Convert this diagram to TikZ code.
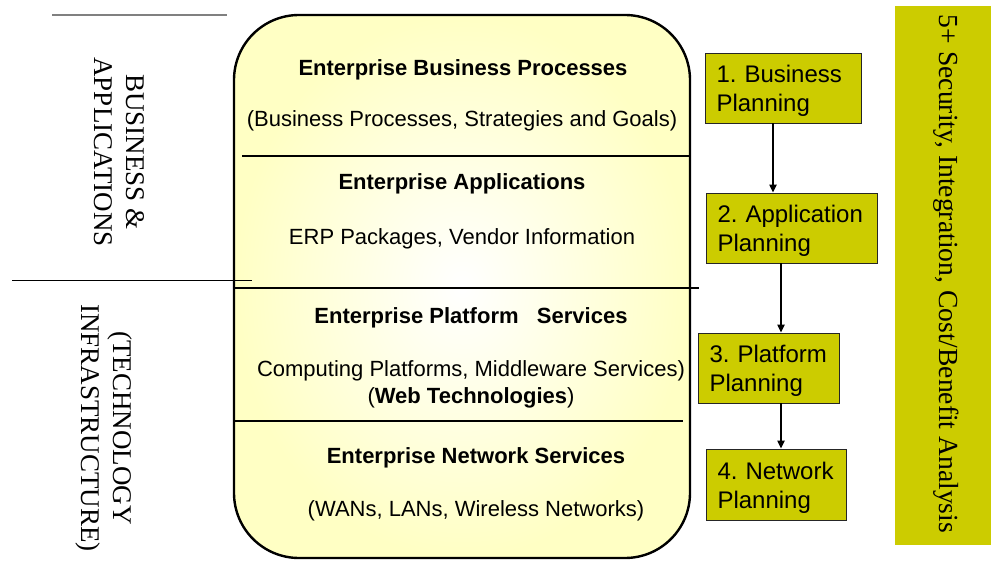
\documentclass[tikz,border=0pt]{standalone}
\usepackage{fontspec}
\setmainfont{Liberation Serif}
\setsansfont{Liberation Sans}
\usetikzlibrary{arrows.meta}
\definecolor{planyellow}{RGB}{204,204,0}
\definecolor{paleyellow}{RGB}{255,255,196}
\frenchspacing
\hyphenpenalty=10000
\exhyphenpenalty=10000
\begin{document}
\begin{tikzpicture}[x=1pt,y=-1pt,
  layertitle/.style={font=\sffamily\bfseries\fontsize{22}{26}\selectfont, inner sep=0pt},
  layertext/.style={font=\sffamily\fontsize{22}{27}\selectfont, align=center, inner sep=0pt},
  planbox/.style={draw=black!85, line width=0.8pt, fill=planyellow,
    font=\sffamily\fontsize{24}{29}\selectfont,
    align=left, inner xsep=11.5pt, inner ysep=0pt,
    execute at begin node={\rule{0pt}{23.5pt}}},
  sidelabel/.style={rotate=-90, align=center, font=\fontsize{27}{32}\selectfont, inner sep=0pt},
  flow/.style={-{Triangle[length=8pt,width=7pt]}, line width=2pt},
  divider/.style={line width=2pt},
]
\useasboundingbox (0,0) rectangle (991,561);
% left separators
\draw[gray, line width=1.2pt] (52,15) -- (227,15);
% layered box
\shade[inner color=white, outer color=paleyellow, draw=black, line width=2.4pt, rounded corners=65pt]
  (234,15) rectangle (690,558);
\draw[line width=0.9pt] (12,280) -- (252,280);
\draw[divider] (242,156) -- (689,156);
\draw[divider] (234,288) -- (699,288);
\draw[divider] (234,421) -- (683,421);
% layer texts
\node[layertitle] (t1) at (463,70) {Enterprise Business Processes};
\node[layertext] (s1) at (462,121) {(Business Processes, Strategies and Goals)};
\node[layertitle] (t2) at (462,184) {Enterprise Applications};
\node[layertext] (s2) at (462,239) {ERP Packages, Vendor Information};
\node[layertitle] (t3) at (471,318) {Enterprise Platform\ \ \ Services};
\node[layertext] (s3) at (471,384) {Computing Platforms, Middleware Services)\\(\textbf{Web Technologies})};
\node[layertitle] (t4) at (476,458) {Enterprise Network Services};
\node[layertext] (s4) at (476,511) {(WANs, LANs, Wireless Networks)};
% side labels
\node[sidelabel] (biz) at (119,152) {BUSINESS \&\\APPLICATIONS};
\node[sidelabel] (tech) at (104,428) {(TECHNOLOGY\\INFRASTRUCTURE)};
% planning boxes
\node[planbox, minimum width=156, minimum height=70, text width=133] (b1) at (783,88) {1. Business\\Planning};
\node[planbox, minimum width=171, minimum height=70, text width=148] (b2) at (791.5,228) {2. Application\\Planning};
\node[planbox, minimum width=141, minimum height=70, text width=118] (b3) at (768.5,368) {3. Platform\\Planning};
\node[planbox, minimum width=140, minimum height=71, text width=117] (b4) at (776,484.5) {4. Network\\Planning};
\coordinate (ax1) at (773,0);
\coordinate (ax2) at (781,0);
\draw[flow] (b1.south -| ax1) -- (b2.north -| ax1);
\draw[flow] (b2.south -| ax2) -- (b3.north -| ax2);
\draw[flow] (b3.south -| ax2) -- (b4.north -| ax2);
% right bar
\node[fill=planyellow, minimum width=96, minimum height=539, inner sep=0pt, anchor=north west] (bar) at (895,6) {};
\node[rotate=-90, font=\fontsize{27.6}{32}\selectfont, inner sep=0pt] (cross) at (946,274) {5+ Security, Integration, Cost/Benefit Analysis};
\end{tikzpicture}
\end{document}
